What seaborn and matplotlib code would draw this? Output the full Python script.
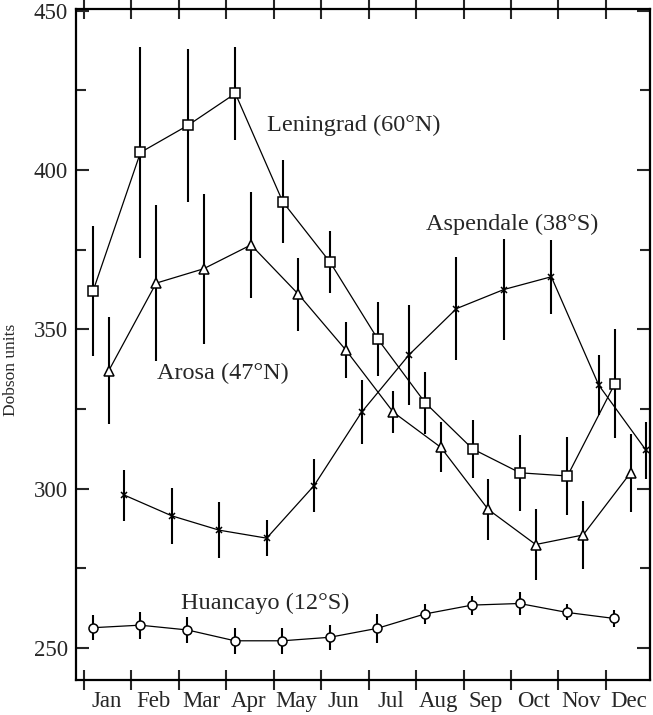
import numpy as np
import pandas as pd
import matplotlib
matplotlib.use("Agg")
import matplotlib.pyplot as plt
import seaborn as sns
from matplotlib.ticker import FixedLocator, NullFormatter

months = ['Jan', 'Feb', 'Mar', 'Apr', 'May', 'Jun',
          'Jul', 'Aug', 'Sep', 'Oct', 'Nov', 'Dec']

leningrad = [362, 405.5, 414, 424, 390, 371, 347, 327, 312.5, 305, 304, 333]
leningrad_err = [20.5, 33, 24, 14.5, 13, 9.7, 11.5, 9.7, 9, 12, 12.3, 17]

arosa = [337, 364.5, 369, 376.5, 361, 343.5, 324, 313, 293.5, 282.5, 285.5, 305]
arosa_err = [16.8, 24.5, 23.6, 16.7, 11.5, 8.7, 6.6, 7.9, 9.6, 11.2, 10.7, 12.2]

aspendale = [298, 291.5, 287, 284.5, 301, 324, 342, 356.5, 362.5, 366.5, 332.5, 312]
aspendale_err = [8, 8.7, 8.8, 5.7, 8.4, 10, 15.7, 16.2, 15.7, 11.6, 9.5, 9]

huancayo = [256.4, 257.2, 255.7, 252.3, 252.3, 253.4, 256.2, 260.7, 263.5, 264, 261.2, 259.3]
huancayo_err = [4, 4.2, 4.2, 4, 4, 4, 4.5, 3.2, 3, 3.6, 2.5, 2.6]

station_labels = ['Leningrad (60°N)', 'Arosa (47°N)', 'Aspendale (38°S)', 'Huancayo (12°S)']

sns.set_theme(style='ticks')
plt.rcParams['font.family'] = ['Liberation Serif', 'DejaVu Serif']

fig = plt.figure(figsize=(6.53, 7.15), dpi=100)
ax = fig.add_axes([76 / 653, 35 / 715, (650 - 76) / 653, (680 - 9) / 715])

series = [
    (leningrad, leningrad_err, 0.19, 's', 6.5),
    (arosa, arosa_err, 0.52, '^', 7.5),
    (aspendale, aspendale_err, 0.85, 'x', 5.0),
    (huancayo, huancayo_err, 0.18, 'o', 6.5),
]

for vals, errs, off, mk, ms in series:
    df = pd.DataFrame({'x': np.arange(len(months)) + off, 'y': vals})
    ax.errorbar(df['x'], df['y'], yerr=errs, fmt='none', ecolor='black',
                elinewidth=1.5, capsize=0, zorder=2)
    sns.lineplot(data=df, x='x', y='y', ax=ax, color='black', linewidth=0.9,
                 marker=mk, markersize=ms, markerfacecolor='white',
                 markeredgecolor='black', markeredgewidth=1.1, zorder=3,
                 legend=False)

ax.set_xlim(-0.169, 11.93)
ax.set_ylim(240, 450.5)

# x ticks: month boundaries (ticks), month centres (labels)
ax.xaxis.set_major_locator(FixedLocator(np.arange(12)))
ax.xaxis.set_major_formatter(NullFormatter())
ax.set_xticks(np.arange(12) + 0.47, months, minor=True)
ax.tick_params(axis='x', which='major', direction='inout', length=14, width=1.5,
               top=True, bottom=True)
ax.tick_params(axis='x', which='minor', length=0, labelsize=16.5, pad=8)

ax.set_yticks([250, 300, 350, 400, 450])
ax.yaxis.set_minor_locator(FixedLocator([275, 325, 375, 425]))
ax.tick_params(axis='y', which='major', direction='in', length=9.5, width=1.5,
               labelsize=16.5, pad=6, right=True)
ax.tick_params(axis='y', which='minor', direction='in', length=7, width=1.5,
               right=True)

for sp in ax.spines.values():
    sp.set_linewidth(1.6)
    sp.set_color('black')

ax.set_xlabel('')
ax.set_ylabel('Dobson units', fontsize=12.5)
ax.yaxis.set_label_coords(-0.1, 0.462)

ax.text(3.85, 412.3, station_labels[0], fontsize=17.5, ha='left', va='baseline')
ax.text(7.21, 381.2, station_labels[2], fontsize=17.5, ha='left', va='baseline')
ax.text(1.53, 334.5, station_labels[1], fontsize=17.5, ha='left', va='baseline')
ax.text(2.04, 262.2, station_labels[3], fontsize=17.5, ha='left', va='baseline')

fig.savefig('out.png', dpi=100)
